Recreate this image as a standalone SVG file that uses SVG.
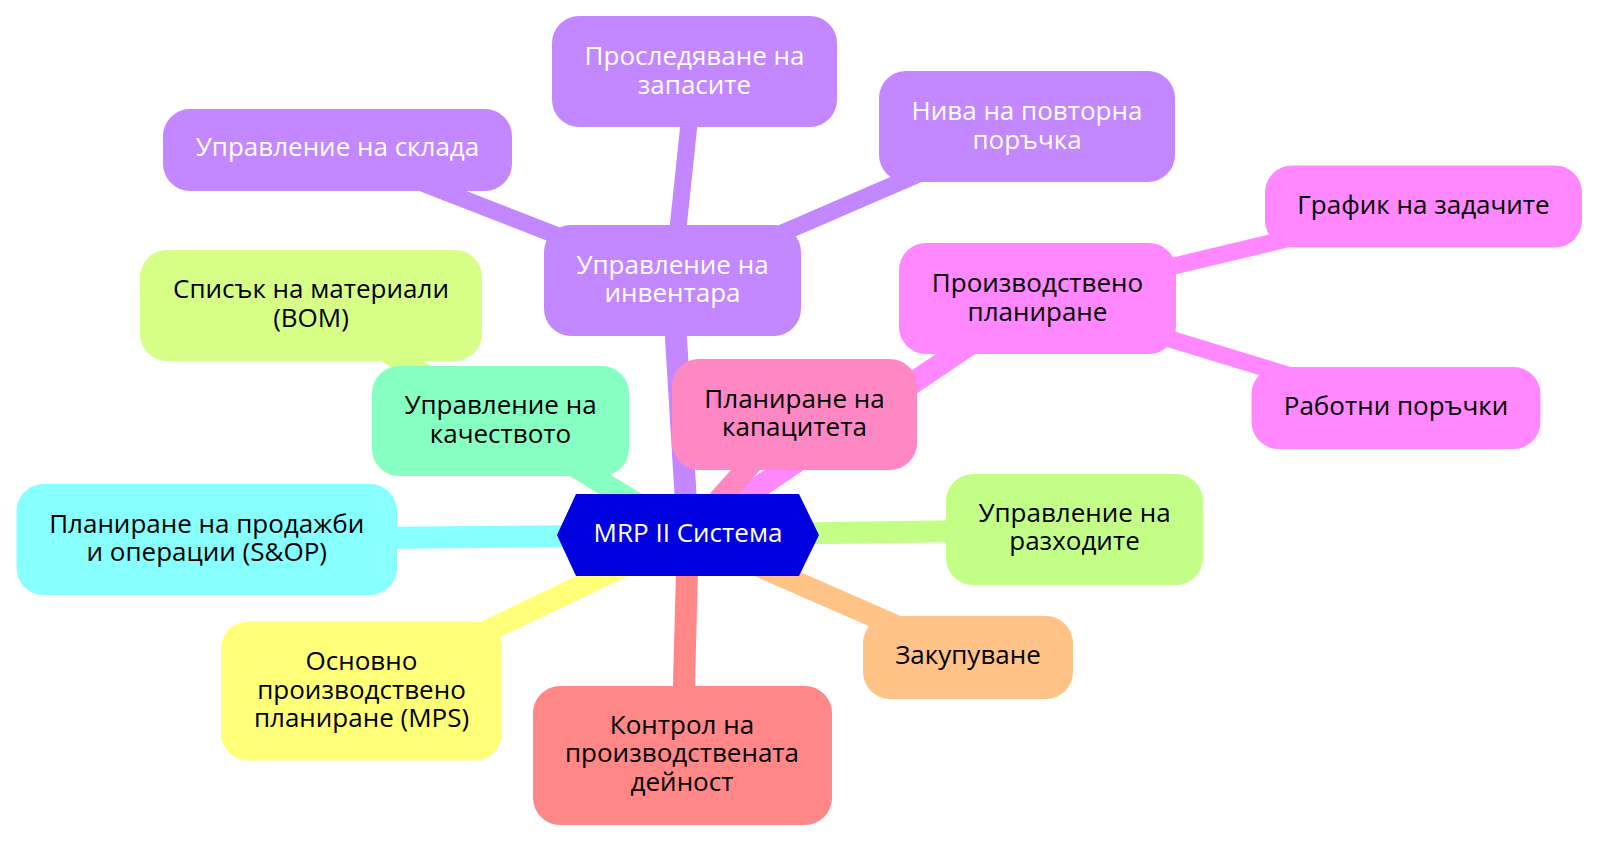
<svg xmlns="http://www.w3.org/2000/svg" width="1600" height="842" viewBox="0 0 1600 842">
<style>
text{font-family:"Open Sans","Noto Sans","DejaVu Sans",sans-serif;font-size:26px;text-anchor:middle;fill:#000}
.w text{fill:#fff}
.e0{stroke-width:22;fill:none}
.e1{stroke-width:17;fill:none}
.inv{fill:#c387ff}
.pp{fill:#ff87ff}
.cap{fill:#ff87c3}
.ctl{fill:#ff8787}
.pur{fill:#ffc387}
.cost{fill:#c3ff87}
.mps{fill:#ffff78}
.sop{fill:#87ffff}
.qual{fill:#87ffc3}
.bom{fill:#d7ff87}
</style>
<rect width="1600" height="842" fill="#fff"/>
<g id="connectors">
<line class="e1" x1="672.5" y1="280.5" x2="337.5" y2="150" stroke="#c387ff"/>
<line class="e1" x1="672.5" y1="280.5" x2="694.5" y2="71.5" stroke="#c387ff"/>
<line class="e1" x1="672.5" y1="280.5" x2="1027" y2="127" stroke="#c387ff"/>
<line class="e1" x1="1037.5" y1="298.5" x2="1423.5" y2="206.5" stroke="#ff87ff"/>
<line class="e1" x1="1037.5" y1="298.5" x2="1396" y2="408" stroke="#ff87ff"/>
<line class="e0" x1="688" y1="535" x2="311" y2="305.5" stroke="#d7ff87"/>
<line class="e0" x1="688" y1="535" x2="500.5" y2="421" stroke="#87ffc3"/>
<line class="e0" x1="688" y1="535" x2="672.5" y2="280.5" stroke="#c387ff"/>
<line class="e0" x1="688" y1="535" x2="1037.5" y2="298.5" stroke="#ff87ff"/>
<line class="e0" x1="688" y1="535" x2="794.5" y2="414.5" stroke="#ff87c3"/>
<line class="e0" x1="688" y1="535" x2="1074.5" y2="529.5" stroke="#c3ff87"/>
<line class="e0" x1="688" y1="535" x2="968" y2="657.5" stroke="#ffc387"/>
<line class="e0" x1="688" y1="535" x2="682" y2="755.5" stroke="#ff8787"/>
<line class="e0" x1="688" y1="535" x2="361.5" y2="691" stroke="#ffff78"/>
<line class="e0" x1="688" y1="535" x2="207" y2="539.5" stroke="#87ffff"/>
</g>
<g id="n-sklad" class="w"><rect class="inv" x="163" y="109" width="349" height="82" rx="27"/><text x="337.5" y="156">Управление на склада</text></g>
<g id="n-zapasi" class="w"><rect class="inv" x="552" y="16" width="285" height="111" rx="27"/><text x="694.5" y="65">Проследяване на</text><text x="694.5" y="93.5">запасите</text></g>
<g id="n-niva" class="w"><rect class="inv" x="879" y="71" width="296" height="111" rx="27"/><text x="1027" y="120">Нива на повторна</text><text x="1027" y="148.5">поръчка</text></g>
<g id="n-inventar" class="w"><rect class="inv" x="544" y="225" width="257" height="111" rx="27"/><text x="672.5" y="273.5">Управление на</text><text x="672.5" y="301.7">инвентара</text></g>
<g id="n-bom"><rect class="bom" x="140" y="250" width="342" height="111" rx="27"/><text x="311" y="298.3">Списък на материали</text><text x="311" y="327">(BOM)</text></g>
<g id="n-kachestvo"><rect class="qual" x="372" y="366" width="257" height="110" rx="27"/><text x="500.5" y="414">Управление на</text><text x="500.5" y="442.7">качеството</text></g>
<g id="n-kapacitet"><rect class="cap" x="672" y="359" width="245" height="111" rx="27"/><text x="794.5" y="407.7">Планиране на</text><text x="794.5" y="435.7">капацитета</text></g>
<g id="n-proizvodstveno"><rect class="pp" x="899" y="243" width="277" height="111" rx="27"/><text x="1037.5" y="291.7">Производствено</text><text x="1037.5" y="320.5">планиране</text></g>
<g id="n-grafik"><rect class="pp" x="1265" y="165.5" width="317" height="82" rx="27"/><text x="1423.5" y="213.5">График на задачите</text></g>
<g id="n-rabotni"><rect class="pp" x="1251.5" y="367" width="289" height="82" rx="27"/><text x="1396" y="415">Работни поръчки</text></g>
<g id="n-razhodi"><rect class="cost" x="946" y="474" width="257" height="111" rx="27"/><text x="1074.5" y="521.7">Управление на</text><text x="1074.5" y="550">разходите</text></g>
<g id="n-zakupuvane"><rect class="pur" x="863" y="616" width="210" height="83" rx="27"/><text x="968" y="664.3">Закупуване</text></g>
<g id="n-kontrol"><rect class="ctl" x="533" y="686" width="299" height="139" rx="27"/><text x="682" y="733.5">Контрол на</text><text x="682" y="762.3">производствената</text><text x="682" y="790.5">дейност</text></g>
<g id="n-mps"><rect class="mps" x="221" y="621.5" width="281" height="139" rx="27"/><text x="361.5" y="669.5">Основно</text><text x="361.5" y="698.5">производствено</text><text x="361.5" y="727">планиране (MPS)</text></g>
<g id="n-sop"><rect class="sop" x="16.5" y="484" width="380.5" height="111" rx="27"/><text x="206.75" y="532.7">Планиране на продажби</text><text x="206.75" y="560.7">и операции (S&amp;OP)</text></g>
<g id="n-root" class="w"><polygon points="557,535 576,494 799,494 819,535 799,576 576,576" fill="#0000e0"/><text x="688" y="541.7">MRP II Система</text></g>
</svg>
